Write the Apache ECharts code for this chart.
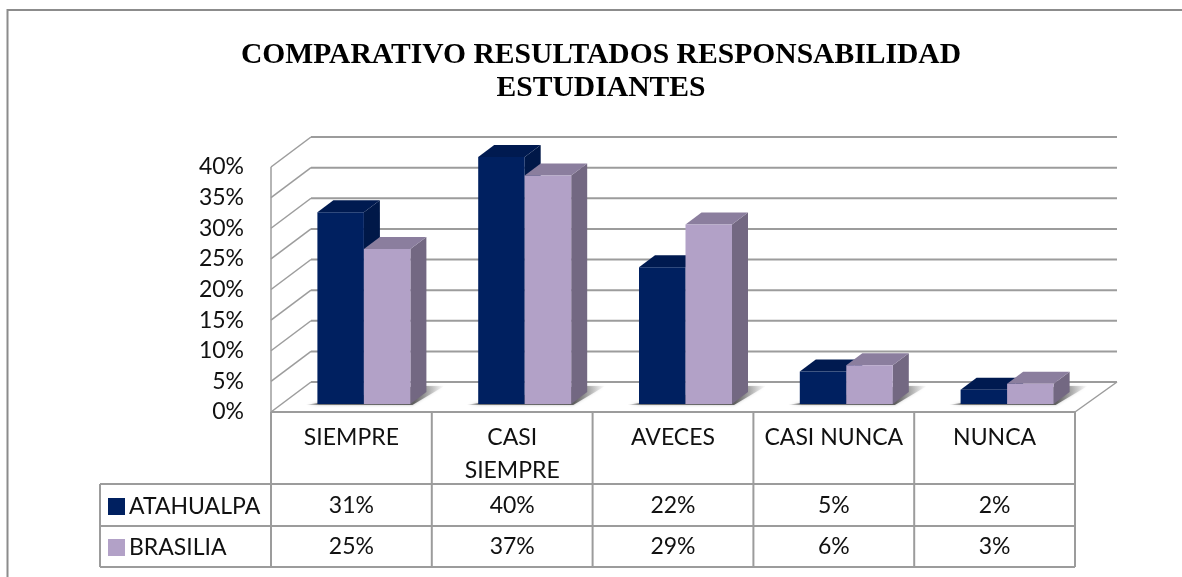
<!DOCTYPE html>
<html>
<head>
<meta charset="utf-8">
<title>Comparativo resultados responsabilidad estudiantes</title>
<script src="https://cdn.jsdelivr.net/npm/echarts@6/dist/echarts.min.js"></script>
<style>
  html, body { margin: 0; padding: 0; background: #fff; }
  #chart { width: 1182px; height: 577px; }
</style>
</head>
<body>
<div id="chart"></div>
<script>
// datos
const categorias = ["SIEMPRE", "CASI\nSIEMPRE", "AVECES", "CASI NUNCA", "NUNCA"];
const atahualpa = [31, 40, 22, 5, 2];
const brasilia = [25, 37, 29, 6, 3];
const marcasY = [0, 5, 10, 15, 20, 25, 30, 35, 40];

// geometria del efecto 3D (pixeles)
const FONDO_DX = 40, FONDO_DY = -30;   // profundidad de las paredes
const BARRA_DX = 16, BARRA_DY = -12;   // profundidad de cada barra
const BASE_DY = -8, TOPE_DY = -10;     // desplazamiento de la barra sobre el piso
const CENTRO_DX = 12.5;
const ANCHO_BARRA = 46.5;
const GRIS = "#9c9c9c";
const FILA_1 = 484, FILA_2 = 526, FILA_3 = 567; // lineas de la tabla
const FUENTE = "Lato";

const chart = echarts.init(document.getElementById("chart"));

const poligono = (points, fill) => ({ type: "polygon", shape: { points }, style: { fill } });
const linea = (x1, y1, x2, y2, width) => ({
  type: "line",
  shape: { x1, y1, x2, y2 },
  style: { stroke: GRIS, lineWidth: width || 1.5 },
});

// barra con cara frontal, lateral y superior
const barra3d = (lado, frente, lateral, tapa) => (params, api) => {
  const cero = api.coord([api.value(0), 0]);
  const tope = api.coord([api.value(0), api.value(1)]);
  const x0 = cero[0] + CENTRO_DX + (lado < 0 ? -ANCHO_BARRA : 0);
  const x1 = x0 + ANCHO_BARRA;
  const yBase = cero[1] + BASE_DY;
  const yTop = tope[1] + TOPE_DY;
  return {
    type: "group",
    children: [
      poligono([[x1, yBase], [x1 + BARRA_DX, yBase + BARRA_DY], [x1 + BARRA_DX, yTop + BARRA_DY], [x1, yTop]], lateral),
      poligono([[x0, yTop], [x1, yTop], [x1 + BARRA_DX, yTop + BARRA_DY], [x0 + BARRA_DX, yTop + BARRA_DY]], tapa),
      poligono([[x0, yBase], [x1, yBase], [x1, yTop], [x0, yTop]], frente),
    ],
  };
};

const option = {
  animation: false,
  backgroundColor: "#fff",
  title: {
    text: "COMPARATIVO RESULTADOS RESPONSABILIDAD\nESTUDIANTES",
    left: 596,
    top: 34,
    textAlign: "center",
    textStyle: {
      fontFamily: "Liberation Serif",
      fontWeight: "bold",
      fontSize: 29.6,
      lineHeight: 33,
      color: "#000",
    },
  },
  legend: {
    data: ["ATAHUALPA", "BRASILIA"],
    orient: "vertical",
    left: 108,
    top: 495,
    itemWidth: 17,
    itemHeight: 17,
    itemGap: 18,
    icon: "rect",
    padding: 0,
    selectedMode: false,
    textStyle: { fontFamily: FUENTE, fontSize: 23, lineHeight: 23, color: "#111", padding: [0, 0, 0, -1] },
  },
  grid: { left: 271, top: 167, width: 804, height: 245 },
  xAxis: {
    type: "category",
    data: categorias,
    axisLine: { show: false },
    axisTick: { show: false },
    axisLabel: {
      interval: 0,
      margin: 9,
      fontFamily: FUENTE,
      fontSize: 23,
      lineHeight: 33,
      color: "#111",
    },
  },
  yAxis: {
    type: "value",
    min: 0,
    max: 40,
    interval: 5,
    axisLine: { show: false },
    axisTick: { show: false },
    splitLine: { show: false },
    axisLabel: {
      margin: 27,
      padding: [3, 0, 0, 0],
      fontFamily: FUENTE,
      fontSize: 23,
      color: "#111",
      formatter: "{value}%",
    },
  },
  // marco exterior, solo arriba e izquierda
  graphic: [
    { type: "polyline", shape: { points: [[7.5, 577], [7.5, 10], [1182, 10]] }, style: { stroke: "#8c8c8c", lineWidth: 2, fill: null } },
  ],
  series: [
    {
      // paredes y lineas de division
      type: "custom",
      name: "paredes",
      silent: true,
      z: 1,
      data: marcasY.map((v) => [0, v]),
      renderItem: (params, api) => {
        const v = api.value(1);
        const y = api.coord([0, v])[1];
        const x0 = params.coordSys.x;
        const x1 = x0 + params.coordSys.width;
        const children = [
          linea(x0, y, x0 + FONDO_DX, y + FONDO_DY),
          linea(x0 + FONDO_DX, y + FONDO_DY, x1 + FONDO_DX + 2, y + FONDO_DY, 2),
        ];
        if (v === 0) {
          children.push(linea(x1, y, x1 + FONDO_DX + 2, y + FONDO_DY));
          children.push(linea(x0, y, x0, params.coordSys.y));
        }
        return { type: "group", children };
      },
    },
    {
      // sombra de cada grupo de barras en el piso
      type: "custom",
      name: "sombra",
      silent: true,
      z: 2,
      data: categorias.map((c, i) => [i, 0]),
      renderItem: (params, api) => {
        const c = api.coord([api.value(0), 0]);
        const x0 = c[0] + CENTRO_DX - ANCHO_BARRA;
        const x2 = c[0] + CENTRO_DX + ANCHO_BARRA;
        const y = c[1] + BASE_DY;
        return {
          type: "polygon",
          shape: { points: [[x0 - 12, y + 1], [x2 + 2, y + 1], [x2 + 34, y - 18], [x2 + 6, y - 18]] },
          style: {
            fill: {
              type: "linear", x: 0, y: 0, x2: 1, y2: 0,
              colorStops: [
                { offset: 0, color: "rgba(110,110,110,0)" },
                { offset: 0.1, color: "rgba(110,110,110,0.9)" },
                { offset: 0.78, color: "rgba(90,90,90,0.95)" },
                { offset: 1, color: "rgba(150,150,150,0)" },
              ],
            },
            shadowBlur: 3,
            shadowColor: "rgba(120,120,120,0.5)",
          },
        };
      },
    },
    {
      type: "custom",
      name: "ATAHUALPA",
      z: 3,
      itemStyle: { color: "#002060" },
      data: atahualpa.map((v, i) => [i, v]),
      renderItem: barra3d(-1, "#002060", "#001848", "#001a50"),
    },
    {
      type: "custom",
      name: "BRASILIA",
      z: 4,
      itemStyle: { color: "#b2a1c7" },
      data: brasilia.map((v, i) => [i, v]),
      renderItem: barra3d(1, "#b2a1c7", "#736882", "#8b7e9e"),
    },
    {
      // tabla de datos debajo del grafico
      type: "custom",
      name: "tabla",
      silent: true,
      z: 5,
      data: categorias.map((c, i) => [i, atahualpa[i], brasilia[i]]),
      renderItem: (params, api) => {
        const i = api.value(0);
        const c = api.coord([i, 0]);
        const ancho = api.size([1, 0])[0];
        const x0 = params.coordSys.x;
        const x1 = x0 + params.coordSys.width;
        const texto = (valor, y) => ({
          type: "text",
          style: {
            x: c[0], y, text: valor + "%", align: "center", verticalAlign: "middle",
            font: "23px " + FUENTE, fill: "#111",
          },
        });
        const children = [
          linea(c[0] + ancho / 2, c[1], c[0] + ancho / 2, FILA_3, 2),
          texto(api.value(1), 506),
          texto(api.value(2), 547),
        ];
        if (i === 0) {
          children.push(
            linea(x0, c[1], x0, FILA_3, 2),
            linea(x0, c[1], x1, c[1], 2),
            linea(x0 - 171, FILA_1, x1, FILA_1, 2),
            linea(x0 - 171, FILA_2, x1, FILA_2, 2),
            linea(x0 - 171, FILA_3, x1, FILA_3, 2),
            linea(x0 - 171, FILA_1, x0 - 171, FILA_3, 2)
          );
        }
        return { type: "group", children };
      },
    },
  ],
};

chart.setOption(option);
</script>
</body>
</html>
